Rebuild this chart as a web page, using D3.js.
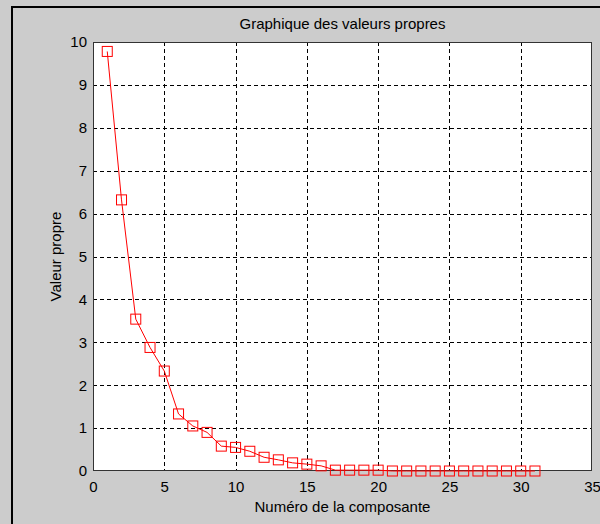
<!DOCTYPE html>
<html>
<head>
<meta charset="utf-8">
<script src="https://cdn.jsdelivr.net/npm/d3@7"></script>
<style>
  html, body { margin: 0; padding: 0; background: #cccccc; }
  svg { display: block; }
  text { font-family: "Liberation Sans", Arial, sans-serif; fill: #000; }
</style>
</head>
<body>
<svg id="chart" width="600" height="524"></svg>
<script>
// ---- data ----
const components = d3.range(1, 32); // 1..31
const eigenvalues = [9.78, 6.32, 3.54, 2.88, 2.33, 1.33, 1.05, 0.90, 0.58, 0.55,
                     0.46, 0.32, 0.26, 0.19, 0.16, 0.12, 0.02, 0.02, 0.02, 0.02,
                     0.0, 0.0, 0.0, 0.0, 0.0, 0.0, 0.0, 0.0, 0.0, 0.0, 0.0];
const xTicks = [0, 5, 10, 15, 20, 25, 30, 35];
const yTicks = [0, 1, 2, 3, 4, 5, 6, 7, 8, 9, 10];
const titleText = "Graphique des valeurs propres";
const xLabelText = "Numéro de la composante";
const yLabelText = "Valeur propre";

const svg = d3.select("#chart");
const W = 600, H = 524;
const plot = {left: 93, right: 592, top: 42, bottom: 471};

// figure background & black top/left frame
svg.append("rect").attr("x", 0).attr("y", 0).attr("width", W).attr("height", H).attr("fill", "#cccccc");
svg.append("rect").attr("x", 11).attr("y", 6).attr("width", W - 11).attr("height", 2).attr("fill", "#000");
svg.append("rect").attr("x", 11).attr("y", 6).attr("width", 2).attr("height", H - 6).attr("fill", "#000");

const x = d3.scaleLinear().domain([0, 35]).range([plot.left, plot.right]);
const y = d3.scaleLinear().domain([0, 10]).range([plot.bottom, plot.top]);

// axes background
svg.append("rect")
  .attr("x", plot.left).attr("y", plot.top)
  .attr("width", plot.right - plot.left).attr("height", plot.bottom - plot.top)
  .attr("fill", "#fff");

// grid
const grid = svg.append("g").attr("stroke", "#000").attr("stroke-width", 1)
  .attr("stroke-dasharray", "4,3").attr("shape-rendering", "crispEdges");
grid.selectAll("line.v").data(xTicks.slice(1, -1)).join("line")
  .attr("x1", d => Math.round(x(d)) + 0.5).attr("x2", d => Math.round(x(d)) + 0.5)
  .attr("y1", plot.top).attr("y2", plot.bottom);
grid.selectAll("line.h").data(yTicks.slice(1, -1)).join("line")
  .attr("y1", d => Math.round(y(d)) + 0.5).attr("y2", d => Math.round(y(d)) + 0.5)
  .attr("x1", plot.left).attr("x2", plot.right);

// axes with tick labels
const xAxis = svg.append("g")
  .attr("transform", `translate(0,${plot.bottom})`)
  .call(d3.axisBottom(x).tickValues(xTicks).tickSize(0).tickPadding(10).tickFormat(d3.format("d")));
xAxis.select(".domain").remove();
xAxis.selectAll("text").attr("font-size", 15).attr("font-family", '"Liberation Sans", Arial, sans-serif').attr("fill", "#000");

const yAxis = svg.append("g")
  .attr("transform", `translate(${plot.left},0)`)
  .call(d3.axisLeft(y).tickValues(yTicks).tickSize(0).tickPadding(6).tickFormat(d3.format("d")));
yAxis.select(".domain").remove();
yAxis.selectAll("text").attr("font-size", 15).attr("font-family", '"Liberation Sans", Arial, sans-serif').attr("fill", "#000");

// box
svg.append("rect")
  .attr("x", plot.left + 0.5).attr("y", plot.top + 0.5)
  .attr("width", plot.right - plot.left - 1).attr("height", plot.bottom - plot.top - 1)
  .attr("fill", "none").attr("stroke", "#333").attr("stroke-width", 1.4)
  .attr("shape-rendering", "crispEdges");

// line
const pts = components.map((c, i) => [c, eigenvalues[i]]);
svg.append("path")
  .datum(pts)
  .attr("fill", "none").attr("stroke", "#ff0000").attr("stroke-width", 1)
  .attr("d", d3.line().x(d => x(d[0])).y(d => y(d[1])));

// markers
const ms = 10;
svg.append("g").selectAll("rect").data(pts).join("rect")
  .attr("x", d => x(d[0]) - ms / 2).attr("y", d => y(d[1]) - ms / 2)
  .attr("width", ms).attr("height", ms)
  .attr("fill", "none").attr("stroke", "#ff0000").attr("stroke-width", 1);

// titles
svg.append("text").attr("x", (plot.left + plot.right) / 2).attr("y", 29)
  .attr("text-anchor", "middle").attr("font-size", 15).text(titleText);
svg.append("text").attr("x", (plot.left + plot.right) / 2).attr("y", 512)
  .attr("text-anchor", "middle").attr("font-size", 15).text(xLabelText);
svg.append("text").attr("transform", `translate(61,${(plot.top + plot.bottom) / 2}) rotate(-90)`)
  .attr("text-anchor", "middle").attr("font-size", 15).text(yLabelText);
</script>
</body>
</html>
